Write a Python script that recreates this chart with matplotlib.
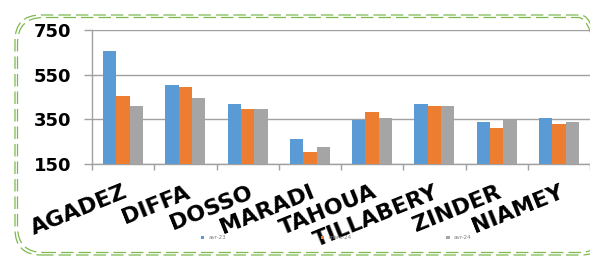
import matplotlib
matplotlib.use("Agg")
import matplotlib.pyplot as plt
import matplotlib.patches as patches
from matplotlib.transforms import Affine2D
import numpy as np

# data
regions = ["AGADEZ", "DIFFA", "DOSSO", "MARADI", "TAHOUA", "TILLABERY", "ZINDER", "NIAMEY"]
avr23 = [656, 502, 417, 264, 349, 417, 337, 355]
mars24 = [456, 497, 395, 202, 383, 411, 310, 327]
avr24 = [411, 445, 395, 224, 355, 411, 348, 337]
series_names = ["avr-23", "mars-24", "avr-24"]
yticks = [150, 350, 550, 750]

colors = ["#5B9BD5", "#ED7D31", "#A5A5A5"]

W, H = 590, 257
fig = plt.figure(figsize=(W / 100, H / 100), dpi=100)
ax = fig.add_axes([0.156, 0.362, 0.844, 0.521])

x = np.arange(len(regions))
w = 0.215
for i, (vals, name) in enumerate(zip([avr23, mars24, avr24], series_names)):
    ax.bar(x + (i - 1) * w, np.array(vals) - 150, bottom=150, width=w,
           color=colors[i], label=name, zorder=3)

ax.set_ylim(150, 750)
ax.set_xlim(-0.5, len(regions) - 0.5)
ax.set_yticks(yticks)
ax.set_yticklabels([str(t) for t in yticks], fontsize=13, fontweight="bold",
                   family="DejaVu Sans")
ax.tick_params(axis="y", length=6, width=1, color="#A0A0A0", pad=9)
ax.yaxis.grid(True, color="#A0A0A0", linewidth=1, zorder=0)

# category boundaries as tick marks, names centred on each group
ax.set_xticks(np.arange(len(regions) + 1) - 0.5)
ax.set_xticklabels([])
ax.tick_params(axis="x", which="major", length=4, width=1, color="#A0A0A0")
ax.set_xticks(x, minor=True)
ax.set_xticklabels(regions, minor=True, rotation=22, ha="right", va="top",
                   rotation_mode="anchor", fontsize=16, fontweight="bold")
ax.tick_params(axis="x", which="minor", length=0, pad=13)

for s in ["top", "right"]:
    ax.spines[s].set_visible(False)
for s in ["left", "bottom"]:
    ax.spines[s].set_color("#A0A0A0")
    ax.spines[s].set_linewidth(1)

fig.legend(loc="center", bbox_to_anchor=(0.57, 0.074), ncol=3, frameon=False,
           fontsize=4, handlelength=0.6, handleheight=0.6, columnspacing=17,
           labelcolor="#808080")

# dashed double rounded frame, given in image pixels (origin bottom-left);
# its right side runs just past the image edge, as in the reference
px = Affine2D().scale(1 / W, 1 / H) + fig.transFigure
for off in [0, 2.5]:
    frame = patches.FancyBboxPatch((15 + off, 2 + off), 592 - 2 * off, 240 - 2 * off,
                                   boxstyle="round,pad=0,rounding_size=26",
                                   transform=px, fill=False,
                                   edgecolor="#7DB94E", linewidth=0.9,
                                   linestyle=(0, (10, 4)), figure=fig)
    fig.patches.append(frame)

fig.savefig("out.png", dpi=100)
